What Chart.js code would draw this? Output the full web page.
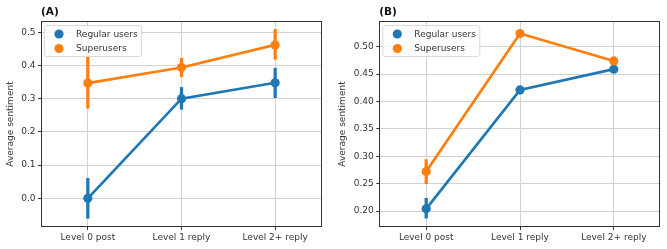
<!DOCTYPE html>
<html><head><meta charset="utf-8">
<script src="https://cdn.jsdelivr.net/npm/chart.js@4"></script>
<style>
html,body{margin:0;padding:0;background:#fff;}
#wrap{position:relative;width:667px;height:249px;overflow:hidden;}
.panel{position:absolute;top:0;height:249px;}
</style></head>
<body>
<div id="wrap">
<div class="panel" style="left:0;width:333px"><canvas id="cA"></canvas></div>
<div class="panel" style="left:333px;width:334px"><canvas id="cB"></canvas></div>
</div>
<script>
// ---- data ----
const categories = ['Level 0 post', 'Level 1 reply', 'Level 2+ reply'];
const seriesNames = ['Regular users', 'Superusers'];
const panelTitles = ['(A)', '(B)'];
const yAxisLabel = 'Average sentiment';

const regularA = [0.000, 0.300, 0.348];
const superA = [0.347, 0.394, 0.462];
const regularA_ci = [[-0.060, 0.060], [0.268, 0.334], [0.303, 0.392]];
const superA_ci = [[0.271, 0.432], [0.366, 0.422], [0.419, 0.509]];
const ticksA = [0.0, 0.1, 0.2, 0.3, 0.4, 0.5];

const regularB = [0.204, 0.421, 0.459];
const superB = [0.272, 0.524, 0.474];
const regularB_ci = [[0.187, 0.223], [0.417, 0.425], [0.455, 0.463]];
const superB_ci = [[0.250, 0.294], [0.520, 0.528], [0.470, 0.478]];
const ticksB = [0.20, 0.25, 0.30, 0.35, 0.40, 0.45, 0.50];

// ---- styling ----
const COLORS = ['#1f77b4', '#ff7f0e'];
const FONT = '"DejaVu Sans", "Liberation Sans", sans-serif';
const TEXT = '#333333';
const GRID = '#d2d2d2';
const FRAME = '#333333';

function frameTitleLegend(title) {
  return {
    id: 'frameTitleLegend',
    afterDraw(chart) {
      const ctx = chart.ctx, a = chart.chartArea;
      ctx.save();
      // frame
      ctx.strokeStyle = FRAME; ctx.lineWidth = 1;
      ctx.strokeRect(Math.round(a.left) + 0.5, Math.round(a.top) + 0.5,
                     Math.round(a.right - a.left) - 1, Math.round(a.bottom - a.top) - 1);
      // title
      ctx.fillStyle = '#111';
      ctx.font = 'bold 10.5px ' + FONT;
      ctx.textBaseline = 'alphabetic'; ctx.textAlign = 'left';
      ctx.fillText(title, a.left, 15);
      // legend
      const lx = a.left + 3.5, ly = a.top + 4.5, lw = 97, lh = 31;
      ctx.beginPath();
      if (ctx.roundRect) ctx.roundRect(lx, ly, lw, lh, 2.5); else ctx.rect(lx, ly, lw, lh);
      ctx.fillStyle = 'rgba(255,255,255,0.8)';
      ctx.fill();
      ctx.strokeStyle = '#d9d9d9'; ctx.lineWidth = 1;
      ctx.stroke();
      ctx.font = '9px ' + FONT;
      ctx.textBaseline = 'middle';
      seriesNames.forEach((name, i) => {
        const cy = ly + 8.5 + i * 14.5;
        ctx.beginPath();
        ctx.arc(lx + 14.5, cy, 4.6, 0, Math.PI * 2);
        ctx.fillStyle = COLORS[i];
        ctx.fill();
        ctx.fillStyle = TEXT;
        ctx.fillText(name, lx + 31.5, cy + 0.5);
      });
      ctx.restore();
    }
  };
}

function makePanel(id, title, reg, sup, regCi, supCi, tickVals, dec, yMin, yMax, yW, padR, titlePad) {
  const tickFont = { family: FONT, size: 9 };
  const gridCfg = { color: GRID, lineWidth: 1, offset: false, tickColor: FRAME, tickLength: 3, drawTicks: true };
  return new Chart(document.getElementById(id), {
    type: 'line',
    data: {
      labels: categories,
      datasets: [
        { type: 'bar', data: regCi, backgroundColor: COLORS[0], barThickness: 2.6, grouped: false, borderWidth: 0, order: 4 },
        { type: 'line', label: seriesNames[0], data: reg, borderColor: COLORS[0], backgroundColor: COLORS[0],
          borderWidth: 2.7, pointRadius: 4.6, pointBorderWidth: 0, pointBackgroundColor: COLORS[0], tension: 0, order: 3 },
        { type: 'bar', data: supCi, backgroundColor: COLORS[1], barThickness: 2.6, grouped: false, borderWidth: 0, order: 2 },
        { type: 'line', label: seriesNames[1], data: sup, borderColor: COLORS[1], backgroundColor: COLORS[1],
          borderWidth: 2.7, pointRadius: 4.6, pointBorderWidth: 0, pointBackgroundColor: COLORS[1], tension: 0, order: 1 }
      ]
    },
    options: {
      responsive: true, maintainAspectRatio: false, devicePixelRatio: 1, animation: false,
      events: [],
      layout: { padding: { left: 0, right: padR, top: 21, bottom: 0 } },
      plugins: { legend: { display: false }, tooltip: { enabled: false }, title: { display: false } },
      scales: {
        x: {
          type: 'category', offset: true, grid: gridCfg,
          border: { display: false },
          ticks: { color: TEXT, font: tickFont, padding: 2, maxRotation: 0, autoSkip: false },
          afterFit: s => { s.height = 22; }
        },
        y: {
          type: 'linear', min: yMin, max: yMax, grid: gridCfg,
          border: { display: false },
          ticks: { color: TEXT, font: tickFont, padding: 2.5, callback: v => Number(v).toFixed(dec) },
          afterBuildTicks: s => { s.ticks = tickVals.map(v => ({ value: v })); },
          afterFit: s => { s.width = yW; },
          title: { display: true, text: yAxisLabel, color: TEXT, font: tickFont, padding: { top: titlePad, bottom: 0 } }
        }
      }
    },
    plugins: [frameTitleLegend(title)]
  });
}

makePanel('cA', panelTitles[0], regularA, superA, regularA_ci, superA_ci, ticksA, 1, -0.0864, 0.534, 41, 11, 5.6);
makePanel('cB', panelTitles[1], regularB, superB, regularB_ci, superB_ci, ticksB, 2, 0.1708, 0.5469, 46.3, 6.3, 3.9);
</script>
</body></html>
